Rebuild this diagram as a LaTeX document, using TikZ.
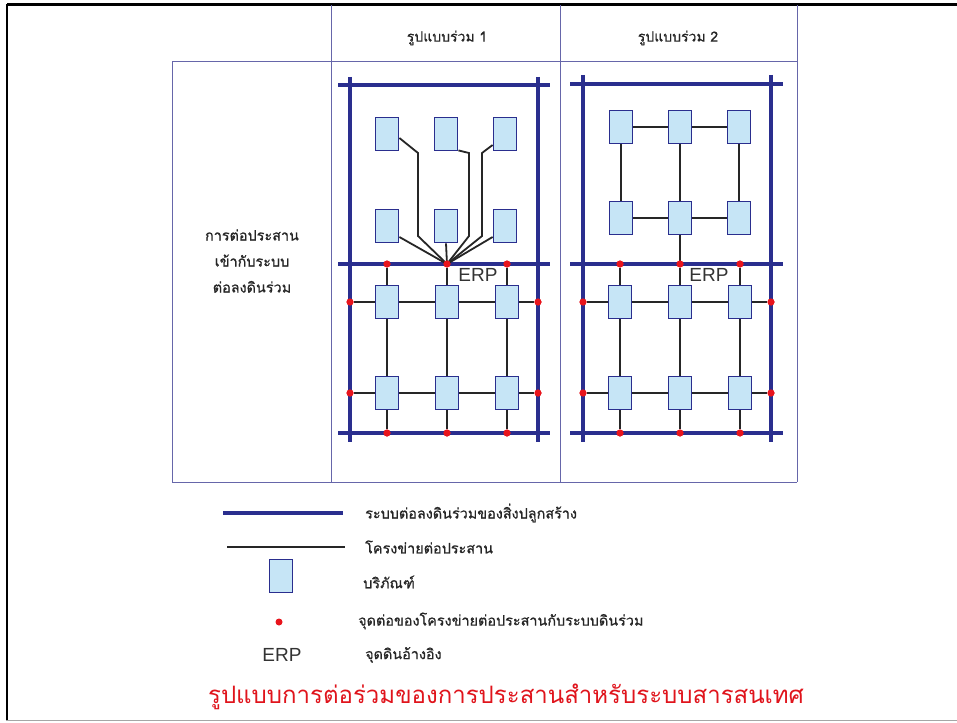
\documentclass[tikz,border=0pt]{standalone}
\usepackage{fontspec}
\setmainfont{Liberation Sans}
\newfontfamily\thai[Script=Thai,FakeBold=0.8]{Loma}
\newfontfamily\thaititle[Script=Thai]{Loma}
\begin{document}
\begin{tikzpicture}[x=1pt,y=-1pt,
  gnd/.style={draw=gndblue,line width=4.5pt},
  net/.style={draw=black!85,line width=1.8pt},
  equip/.style={draw=gndblue,line width=1.8pt,fill=equipfill,minimum width=23pt,minimum height=33pt,inner sep=0pt},
  bond/.style={circle,fill=bondred,minimum size=7pt,inner sep=0pt},
  tbl/.style={draw=tblblue,line width=1pt},
  thaitxt/.style={font=\thai\fontsize{14.4}{26}\selectfont,text=black!85},
  erptxt/.style={font=\fontsize{19}{22}\selectfont,text=black!80}]
\definecolor{gndblue}{HTML}{2A2E8E}
\definecolor{equipfill}{HTML}{C6E5F6}
\definecolor{bondred}{HTML}{E8141C}
\definecolor{tblblue}{HTML}{6666AA}
\definecolor{titlered}{HTML}{E0141C}
\useasboundingbox (0,0) rectangle (957,722);
\fill[white] (0,0) rectangle (957,722);
% frame
\draw[black,line width=3pt] (7,5) -- (957,5);
\draw[black,line width=2.2pt] (7,4) -- (7,721);
\draw[black!35,line width=1pt] (6,720.5) -- (957,720.5);
% table
\draw[tbl] (331,5) -- (331,482);
\draw[tbl] (560,5) -- (560,482);
\draw[tbl] (797,5) -- (797,482);
\draw[tbl] (172,62) -- (797,62);
\draw[tbl] (172,62) -- (172,482) -- (797,482);
\node[thaitxt,font=\thai\fontsize{14}{20}\selectfont] (h1) at (447,38) {รูปแบบร่วม 1};
\node[thaitxt,font=\thai\fontsize{14}{20}\selectfont] (h2) at (678,38) {รูปแบบร่วม 2};
\node[thaitxt,align=center] (rowlbl) at (252,261) {การต่อประสาน\\เข้ากับระบบ\\ต่อลงดินร่วม};

% ================= panel 1 =================
\draw[gnd] (338,85) -- (550,85);
\draw[gnd] (338,264) -- (550,264);
\draw[gnd] (338,433) -- (550,433);
\draw[gnd] (350,77) -- (350,442);
\draw[gnd] (538,77) -- (538,442);
% upper equipment
\node[equip] (a1) at (387,134) {};
\node[equip] (a2) at (446,134) {};
\node[equip] (a3) at (505,134) {};
\node[equip] (a4) at (387,226) {};
\node[equip] (a5) at (446,226) {};
\node[equip] (a6) at (505,226) {};
\coordinate (erpA) at (447,264);
\draw[net] (a1.east |- 0,138) -- (418,153) -- (418,236) -- (erpA);
\draw[net] (a2.south east) ++(0,-1) -- (469,153) -- (469,236) -- (erpA);
\draw[net] (a3.west |- 0,145) -- (482,153) -- (482,236) -- (erpA);
\draw[net] (a4.east |- 0,237) -- (erpA);
\draw[net] (a5.south) -- (erpA);
\draw[net] (a6.west |- 0,237) -- (erpA);
\foreach \n in {1,...,6}{\node[equip] at (a\n) {};}
% lower grid
\foreach \c/\x in {1/387,2/447,3/507}{
  \node[bond] (at\c) at (\x,264) {};
  \node[bond] (ab\c) at (\x,433) {};
  \draw[net] (at\c) -- (ab\c);
}
\foreach \r/\y in {1/302,2/393}{
  \node[bond] (al\r) at (350,\y) {};
  \node[bond] (ar\r) at (538,\y) {};
  \draw[net] (al\r) -- (ar\r);
}
\foreach \c/\x in {1/387,2/447,3/507}{
  \node[equip] (ae\c) at (\x,302) {};
  \node[equip] (af\c) at (\x,393) {};
}
\foreach \c in {1,2,3}{\node[bond] at (at\c) {};\node[bond] at (ab\c) {};}
\foreach \r in {1,2}{\node[bond] at (al\r) {};\node[bond] at (ar\r) {};}
\node[erptxt] (erp1) at (478,275) {ERP};

% ================= panel 2 =================
\draw[gnd] (570,84) -- (783,84);
\draw[gnd] (570,264) -- (783,264);
\draw[gnd] (570,433) -- (783,433);
\draw[gnd] (583,75) -- (583,442);
\draw[gnd] (771,75) -- (771,442);
\node[equip] (b1) at (621,127) {};
\node[equip] (b2) at (680,127) {};
\node[equip] (b3) at (739,127) {};
\node[equip] (b4) at (621,218) {};
\node[equip] (b5) at (680,218) {};
\node[equip] (b6) at (739,218) {};
\coordinate (erpB) at (680,264);
\draw[net] (b1) -- (b2) -- (b3);
\draw[net] (b4) -- (b5) -- (b6);
\draw[net] (b1) -- (b4);
\draw[net] (b2) -- (b5);
\draw[net] (b3) -- (b6);
\draw[net] (b5) -- (erpB);
\foreach \n in {1,...,6}{\node[equip] at (b\n) {};}
\foreach \c/\x in {1/620,2/680,3/740}{
  \node[bond] (bt\c) at (\x,264) {};
  \node[bond] (bb\c) at (\x,433) {};
  \draw[net] (bt\c) -- (bb\c);
}
\foreach \r/\y in {1/302,2/393}{
  \node[bond] (bl\r) at (583,\y) {};
  \node[bond] (br\r) at (771,\y) {};
  \draw[net] (bl\r) -- (br\r);
}
\foreach \c/\x in {1/620,2/680,3/740}{
  \node[equip] (be\c) at (\x,302) {};
  \node[equip] (bf\c) at (\x,393) {};
}
\foreach \c in {1,2,3}{\node[bond] at (bt\c) {};\node[bond] at (bb\c) {};}
\foreach \r in {1,2}{\node[bond] at (bl\r) {};\node[bond] at (br\r) {};}
\node[erptxt] (erp2) at (709,275) {ERP};

% ================= legend =================
\coordinate (lg1a) at (223,513); \coordinate (lg1b) at (343,513);
\draw[gnd] (lg1a) -- (lg1b);
\node[thaitxt,anchor=west,inner sep=0pt] (lt1) at (365,513) {ระบบต่อลงดินร่วมของสิ่งปลูกสร้าง};
\coordinate (lg2a) at (227,547); \coordinate (lg2b) at (345,547);
\draw[net] (lg2a) -- (lg2b);
\node[thaitxt,anchor=west,inner sep=0pt] (lt2) at (365,547) {โครงข่ายต่อประสาน};
\node[equip] (lg3) at (281,576) {};
\node[thaitxt,anchor=west,inner sep=0pt] (lt3) at (363,582) {บริภัณฑ์};
\node[bond] (lg4) at (279,622) {};
\node[thaitxt,anchor=west,inner sep=0pt] (lt4) at (358,621) {จุดต่อของโครงข่ายต่อประสานกับระบบดินร่วม};
\node[erptxt] (lg5) at (282,655) {ERP};
\node[thaitxt,anchor=west,inner sep=0pt] (lt5) at (365,655) {จุดดินอ้างอิง};
\node[font=\thaititle\fontsize{24}{28}\selectfont,text=titlered] (title) at (506,697) {รูปแบบการต่อร่วมของการประสานสำหรับระบบสารสนเทศ};
\end{tikzpicture}
\end{document}
